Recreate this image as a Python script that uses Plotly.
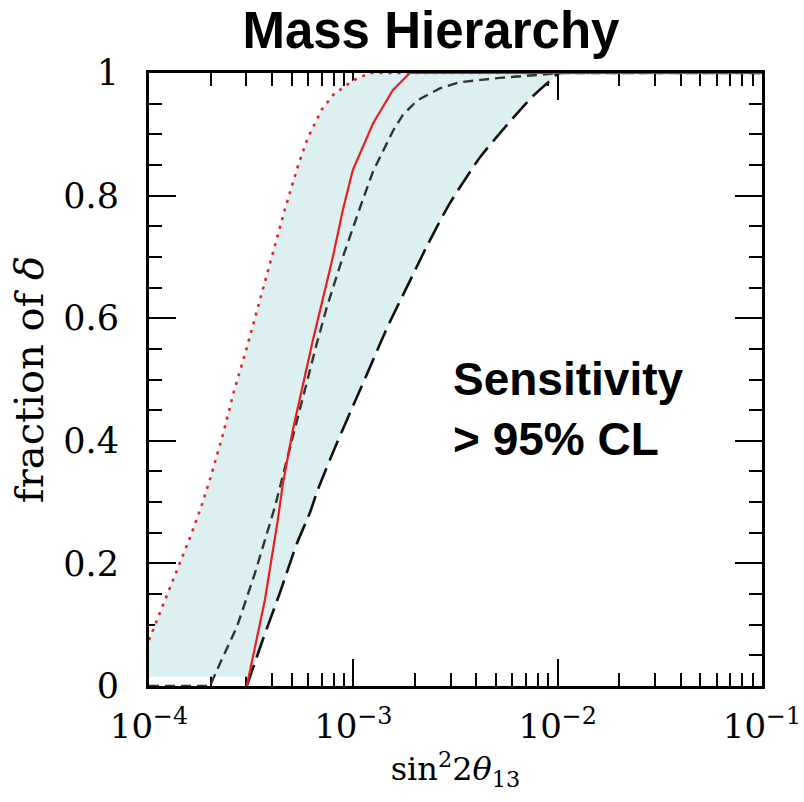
import numpy as np
import plotly.graph_objects as go

# ---- data ----
# red dotted curve (upper edge of band)
dot_x = [1.0e-4, 1.2e-4, 1.4e-4, 1.6e-4, 1.8e-4, 2.0e-4, 2.3e-4, 2.6e-4, 3.0e-4,
         3.4e-4, 4.0e-4, 4.6e-4, 5.4e-4, 6.0e-4, 7.0e-4, 8.0e-4, 1.0e-3, 1.2e-3, 1.0e-1]
dot_y = [0.075, 0.14, 0.197, 0.245, 0.292, 0.34, 0.41, 0.48, 0.55,
         0.615, 0.70, 0.775, 0.852, 0.895, 0.94, 0.965, 0.988, 1.0, 1.0]

# red solid curve
red_x = [3.01e-4, 3.69e-4, 4.27e-4, 4.52e-4, 5.06e-4, 5.66e-4, 6.34e-4, 7.94e-4,
         8.89e-4, 9.95e-4, 1.25e-3, 1.56e-3, 1.89e-3, 1.0e-1]
red_y = [0.0, 0.14, 0.271, 0.33, 0.418, 0.49, 0.564, 0.70,
         0.777, 0.842, 0.918, 0.972, 1.0, 1.0]

# black short-dashed curve
sd_x = [1.0e-4, 1.99e-4, 2.15e-4, 2.69e-4, 3.30e-4, 4.13e-4, 4.73e-4, 5.30e-4, 5.93e-4,
        6.64e-4, 7.42e-4, 8.89e-4, 1.08e-3, 1.25e-3, 1.56e-3, 1.75e-3, 2.05e-3,
        2.65e-3, 3.32e-3, 5.20e-3, 8.17e-3, 1.02e-2, 1.0e-1]
sd_y = [0.0, 0.0, 0.026, 0.096, 0.184, 0.292, 0.369, 0.434, 0.499,
        0.56, 0.618, 0.70, 0.781, 0.84, 0.905, 0.932, 0.955,
        0.975, 0.985, 0.992, 0.997, 1.0, 1.0]

# black long-dashed curve (lower edge of band)
ld_x = [3.01e-4, 3.60e-4, 4.37e-4, 5.30e-4, 6.12e-4, 6.70e-4, 8.30e-4, 1.04e-3,
        1.25e-3, 1.47e-3, 1.83e-3, 2.31e-3, 2.96e-3, 4.16e-3, 5.64e-3,
        7.55e-3, 9.14e-3, 1.02e-2, 1.0e-1]
ld_y = [0.0, 0.075, 0.152, 0.233, 0.282, 0.32, 0.396, 0.471,
        0.532, 0.586, 0.651, 0.72, 0.787, 0.862, 0.915,
        0.962, 0.987, 1.0, 1.0]

fill_floor = 0.015

x_major = [1e-4, 1e-3, 1e-2, 1e-1]
x_ticktext = ["10<sup>−4</sup>", "10<sup>−3</sup>", "10<sup>−2</sup>", "10<sup>−1</sup>"]
x_minor = [m * d for d in [1e-4, 1e-3, 1e-2] for m in range(2, 10)]
y_ticks = [0, 0.2, 0.4, 0.6, 0.8, 1.0]
y_ticktext = ["0", "0.2", "0.4", "0.6", "0.8", "1"]

# ---- band polygon built from the curves ----
ld_lx = np.log10(ld_x)
x_floor = 10 ** np.interp(fill_floor, ld_y[:5], ld_lx[:5])
keep = [i for i in range(len(ld_x) - 1, -1, -1) if ld_y[i] >= fill_floor]
band_x = list(dot_x) + [ld_x[i] for i in keep] + [x_floor, dot_x[0]]
band_y = list(dot_y) + [ld_y[i] for i in keep] + [fill_floor, fill_floor]

fig = go.Figure()
fig.add_trace(go.Scatter(x=band_x, y=band_y, mode="lines", fill="toself",
                         fillcolor="#dcf0f2", line=dict(width=0), hoverinfo="skip",
                         showlegend=False))
fig.add_trace(go.Scatter(x=ld_x, y=ld_y, mode="lines", line_shape="spline",
                         line=dict(color="#111111", width=2.6, dash="22px,8px", smoothing=0.6),
                         showlegend=False))
fig.add_trace(go.Scatter(x=sd_x, y=sd_y, mode="lines",
                         line=dict(color="#333333", width=2.4, dash="10px,6px"),
                         showlegend=False))
fig.add_trace(go.Scatter(x=red_x, y=red_y, mode="lines",
                         line=dict(color="#ee1c1c", width=2.2),
                         showlegend=False))
fig.add_trace(go.Scatter(x=dot_x, y=dot_y, mode="lines",
                         line=dict(color="#e02828", width=2.6, dash="3px,6px"),
                         showlegend=False))

serif = "DejaVu Serif"
fig.update_xaxes(
    type="log", range=[-4, -1], automargin=False,
    tickmode="array", tickvals=x_major, ticktext=x_ticktext,
    ticks="inside", ticklen=27, tickwidth=2, tickcolor="black",
    minor=dict(tickmode="array", tickvals=x_minor, ticks="inside", ticklen=13,
               tickwidth=2, tickcolor="black"),
    showline=True, linewidth=3, linecolor="black", mirror="ticks",
    showgrid=False, zeroline=False,
    tickfont=dict(family=serif, size=34, color="black"),
    ticklabelstandoff=8,
    title=dict(text="sin<sup>2</sup>2<i>θ</i><sub>13</sub>",
               font=dict(family=serif, size=32, color="black"), standoff=2),
    layer="below traces",
)
fig.update_yaxes(
    range=[0, 1], automargin=False,
    tickmode="array", tickvals=y_ticks, ticktext=y_ticktext,
    ticks="inside", ticklen=27, tickwidth=2, tickcolor="black",
    minor=dict(dtick=0.05, tick0=0, ticks="inside", ticklen=13,
               tickwidth=2, tickcolor="black"),
    showline=True, linewidth=3, linecolor="black", mirror="ticks",
    showgrid=False, zeroline=False,
    tickfont=dict(family=serif, size=35, color="black"),
    ticklabelstandoff=20,
    title=dict(text="fraction of <i>δ</i>",
               font=dict(family=serif, size=40, color="black"), standoff=8),
    layer="below traces",
)

fig.update_layout(
    width=804, height=802,
    margin=dict(l=149, r=42, t=73, b=116, autoexpand=False),
    paper_bgcolor="white", plot_bgcolor="white",
    title=dict(text="<b>Mass Hierarchy</b>", x=0.536, xanchor="center",
               y=1 - 30 / 802, yanchor="middle", automargin=False,
               font=dict(family="Liberation Sans", size=51, color="black")),
    annotations=[dict(text="<b>Sensitivity<br>> 95% CL</b>", xref="paper", yref="paper",
                      x=0.493, y=0.452, xanchor="left", yanchor="middle", align="left",
                      showarrow=False,
                      font=dict(family="Liberation Sans", size=46, color="black"))],
)

# remove the browser's default 8px page margin so the figure fills the window
fig.write_html("out.html", config={"displayModeBar": False},
               post_script="document.body.style.margin='0';")
